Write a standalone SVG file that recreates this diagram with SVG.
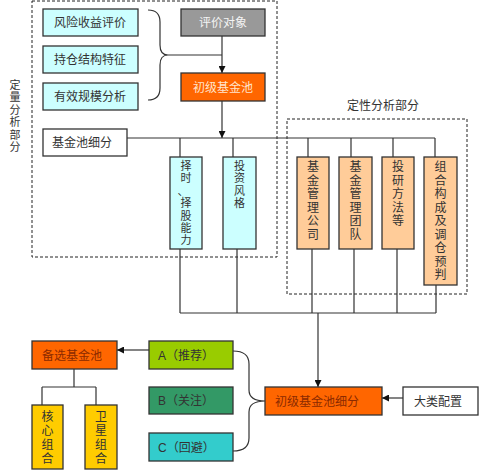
<svg xmlns="http://www.w3.org/2000/svg" width="479" height="471" viewBox="0 0 479 471">
<defs>
<marker id="arr" viewBox="0 0 10 10" refX="10" refY="5" markerWidth="7" markerHeight="7" markerUnits="userSpaceOnUse" orient="auto">
<path d="M0,0 L10,5 L0,10 z" fill="#111"/>
</marker>
<style>
text{font-family:"Liberation Sans","Noto Sans CJK SC",sans-serif;font-size:12px;fill:#333}
.vs{font-size:11px}
.bx{stroke:#333;stroke-width:1.3}
.cyan{fill:#CCFFFF}
.peach{fill:#FFCC99}
.org{fill:#FF6600}
.gold{fill:#FFCC00}
.ln{fill:none;stroke:#333;stroke-width:1.2}
.dash{fill:none;stroke:#222;stroke-width:1;stroke-dasharray:3,2}
.c{text-anchor:middle}
</style>
</defs>
<rect width="479" height="471" fill="#fff"/>

<g id="regions">
<rect class="dash" x="32" y="1" width="245" height="256"/>
<rect class="dash" x="287" y="119" width="180" height="175"/>
<text id="lbl-quant" class="c vs"><tspan x="15" y="89">定</tspan><tspan x="15" y="101.4">量</tspan><tspan x="15" y="113.8">分</tspan><tspan x="15" y="126.2">析</tspan><tspan x="15" y="138.6">部</tspan><tspan x="15" y="151">分</tspan></text>
<text id="lbl-qual" class="c" x="383" y="110">定性分析部分</text>
</g>

<g id="connectors">
<path class="ln" d="M148,10 Q160,10 160,22 L160,45 Q160,55 168,55 Q160,55 160,65 L160,88 Q160,100 148,100"/>
<path class="ln" d="M168,55 L222,55"/>
<path class="ln" d="M222,36 L222,73" marker-end="url(#arr)"/>
<path class="ln" d="M222,101 L222,138" marker-end="url(#arr)"/>
<path class="ln" d="M127,138 L435,138"/>
<path class="ln" d="M180,138 V157 M233,138 V157 M308,138 V157 M351,138 V157 M393,138 V157 M435,138 V157"/>
<path class="ln" d="M180,249 V313 M237,249 V313 M312,249 V313 M354,249 V313 M397,249 V313 M436,285 V313 M180,313 H436"/>
<path class="ln" d="M318,313 L318,387" marker-end="url(#arr)"/>
<path class="ln" d="M403,398 L382,398" marker-end="url(#arr)"/>
<path class="ln" d="M233,351 Q249,351 249,364 L249,390 Q249,401 265,401 Q249,401 249,412 L249,438 Q249,451 233,451"/>
<path class="ln" d="M149,350 L117,350" marker-end="url(#arr)"/>
<path class="ln" d="M74,369 V387 M42,387 H96 M42,387 V405 M96,387 V405"/>
</g>

<g id="n-risk"><rect class="bx cyan" x="43" y="9" width="95" height="27"/><text class="c" x="90" y="27">风险收益评价</text></g>
<g id="n-hold"><rect class="bx cyan" x="43" y="46" width="95" height="27"/><text class="c" x="90" y="64">持仓结构特征</text></g>
<g id="n-scale"><rect class="bx cyan" x="43" y="83" width="95" height="27"/><text class="c" x="90" y="101">有效规模分析</text></g>
<g id="n-target"><rect class="bx" fill="#999999" x="181" y="9" width="84" height="27"/><text class="c" x="223" y="27" style="fill:#f4f4f4">评价对象</text></g>
<g id="n-pool1"><rect class="bx org" x="181" y="73" width="84" height="28"/><text class="c" x="223" y="92" style="fill:#FFE4CC">初级基金池</text></g>
<g id="n-split"><rect class="bx" fill="#fff" x="43" y="129" width="84" height="27"/><text x="52" y="147">基金池细分</text></g>

<g id="n-timing"><rect class="bx cyan" x="170" y="157" width="32" height="92"/>
<text class="c vs"><tspan x="186" y="170">择</tspan><tspan x="186" y="182.4">时</tspan><tspan x="183" y="194.8">、</tspan><tspan x="186" y="207.2">择</tspan><tspan x="186" y="219.6">股</tspan><tspan x="186" y="232">能</tspan><tspan x="186" y="244.4">力</tspan></text></g>
<g id="n-style"><rect class="bx cyan" x="223" y="157" width="33" height="92"/>
<text class="c vs"><tspan x="239.5" y="170">投</tspan><tspan x="239.5" y="182.4">资</tspan><tspan x="239.5" y="194.8">风</tspan><tspan x="239.5" y="207.2">格</tspan></text></g>

<g id="n-company"><rect class="bx peach" x="297" y="157" width="32" height="92"/>
<text class="c"><tspan x="313" y="171">基</tspan><tspan x="313" y="184.5">金</tspan><tspan x="313" y="198">管</tspan><tspan x="313" y="211.5">理</tspan><tspan x="313" y="225">公</tspan><tspan x="313" y="238.5">司</tspan></text></g>
<g id="n-team"><rect class="bx peach" x="339" y="157" width="33" height="92"/>
<text class="c"><tspan x="355.5" y="171">基</tspan><tspan x="355.5" y="184.5">金</tspan><tspan x="355.5" y="198">管</tspan><tspan x="355.5" y="211.5">理</tspan><tspan x="355.5" y="225">团</tspan><tspan x="355.5" y="238.5">队</tspan></text></g>
<g id="n-method"><rect class="bx peach" x="382" y="157" width="32" height="92"/>
<text class="c"><tspan x="398" y="171">投</tspan><tspan x="398" y="184.5">研</tspan><tspan x="398" y="198">方</tspan><tspan x="398" y="211.5">法</tspan><tspan x="398" y="225">等</tspan></text></g>
<g id="n-portfolio"><rect class="bx peach" x="424" y="157" width="33" height="128"/>
<text class="c"><tspan x="440.5" y="171">组</tspan><tspan x="440.5" y="184.5">合</tspan><tspan x="440.5" y="198">构</tspan><tspan x="440.5" y="211.5">成</tspan><tspan x="440.5" y="225">及</tspan><tspan x="440.5" y="238.5">调</tspan><tspan x="440.5" y="252">仓</tspan><tspan x="440.5" y="265.5">预</tspan><tspan x="440.5" y="279">判</tspan></text></g>

<g id="n-pool2"><rect class="bx org" x="265" y="387" width="117" height="28"/><text x="275" y="406" style="fill:#8B2A00">初级基金池细分</text></g>
<g id="n-asset"><rect class="bx" fill="#fff" x="403" y="387" width="75" height="28"/><text class="c" x="438" y="406">大类配置</text></g>
<g id="n-a"><rect class="bx" fill="#99CC00" x="149" y="341" width="84" height="28"/><text x="158" y="360">A（推荐）</text></g>
<g id="n-b"><rect class="bx" fill="#339966" x="149" y="387" width="84" height="27"/><text x="158" y="405">B（关注）</text></g>
<g id="n-c"><rect class="bx" fill="#33CCCC" x="149" y="433" width="84" height="28"/><text x="158" y="452">C（回避）</text></g>
<g id="n-candidate"><rect class="bx org" x="32" y="341" width="85" height="28"/><text class="c" x="72" y="360" style="fill:#8B2A00">备选基金池</text></g>
<g id="n-core"><rect class="bx gold" x="32" y="405" width="31" height="64"/>
<text class="c"><tspan x="47.5" y="421">核</tspan><tspan x="47.5" y="435">心</tspan><tspan x="47.5" y="449">组</tspan><tspan x="47.5" y="463">合</tspan></text></g>
<g id="n-sat"><rect class="bx gold" x="85" y="405" width="32" height="64"/>
<text class="c"><tspan x="101" y="421">卫</tspan><tspan x="101" y="435">星</tspan><tspan x="101" y="449">组</tspan><tspan x="101" y="463">合</tspan></text></g>
</svg>
